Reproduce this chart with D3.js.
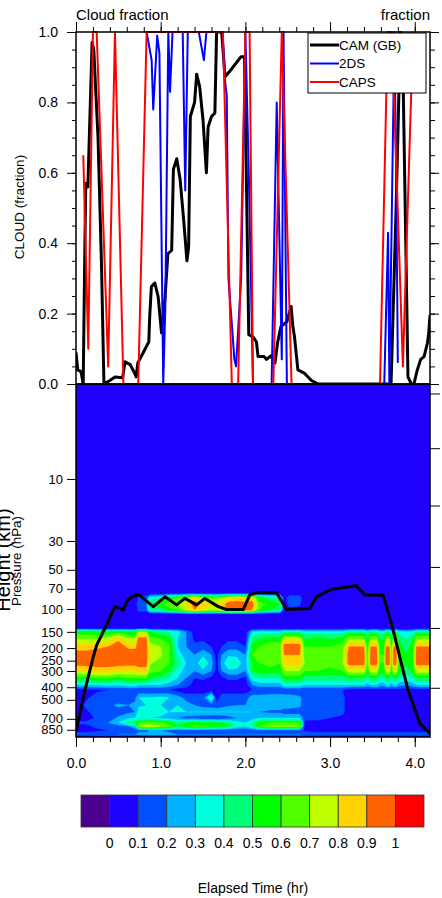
<!DOCTYPE html>
<html>
<head>
<meta charset="utf-8">
<script src="https://cdn.jsdelivr.net/npm/d3@7"></script>
<style>
  body { margin: 0; background: #fff; }
  svg { display: block; }
</style>
</head>
<body>
<svg id="chart" width="442" height="898"></svg>
<script>
// ---------- Cloud fraction time series (top panel) ----------
const camTime = [0.00, 0.02, 0.06, 0.085, 0.10, 0.115, 0.14, 0.19, 0.21, 0.26, 0.30, 0.33, 0.40, 0.46, 0.55, 0.58,
  0.64, 0.69, 0.71, 0.73, 0.77, 0.83, 0.86, 0.87, 0.89, 0.93, 0.97, 1.01, 1.05, 1.085, 1.13, 1.15, 1.19, 1.23,
  1.27, 1.31, 1.33, 1.35, 1.40, 1.425, 1.46, 1.50, 1.54, 1.56, 1.60, 1.64, 1.66, 1.72, 1.76, 1.82, 1.95, 1.99,
  2.04, 2.09, 2.13, 2.15, 2.22, 2.25, 2.30, 2.35, 2.38, 2.42, 2.49, 2.54, 2.56, 2.58, 2.62, 2.70, 2.78, 2.86,
  3.72, 3.78, 3.83, 3.86, 3.92, 3.96, 3.99, 4.03, 4.07, 4.11, 4.15, 4.165, 4.18];
const camFrac = [0.09, 0.04, 0.035, 0.0, 0.30, 0.57, 0.56, 0.97, 0.95, 0.70, 0.35, 0.0, 0.01, 0.02, 0.018, 0.063,
  0.055, 0.032, 0.02, 0.06, 0.078, 0.106, 0.12, 0.19, 0.276, 0.287, 0.248, 0.145, 0.24, 0.37, 0.38, 0.61, 0.64, 0.58,
  0.47, 0.35, 0.39, 0.76, 0.80, 0.88, 0.845, 0.75, 0.60, 0.73, 0.76, 0.77, 1.0, 1.0, 0.873, 0.89, 0.93, 0.93,
  0.14, 0.134, 0.12, 0.078, 0.078, 0.07, 0.08, 0.06, 0.117, 0.163, 0.177, 0.22, 0.165, 0.134, 0.04, 0.03, 0.01, 0.0,
  0.0, 0.5, 1.0, 0.9, 0.02, 0.0, 0.0, 0.04, 0.07, 0.078, 0.117, 0.144, 0.196];

const tdsTime = [0.834, 0.893, 0.912, 0.959, 0.985, 1.03, 1.055, 1.09, 1.11, 1.14, 1.26, 1.29, 1.32, 1.45, 1.48,
  1.51, 1.54, 1.73, 1.76, 1.78, 1.80, 1.84, 1.87, 1.89, 1.95, 2.00, 2.04, 2.09, 2.31, 2.37, 2.43, 2.45, 2.49,
  3.64, 3.685, 3.70, 3.76, 3.78, 3.80];
const tdsFrac = [1.0, 0.92, 0.78, 0.99, 0.94, 0.0, 0.22, 1.0, 0.83, 1.0, 1.0, 0.55, 1.0, 1.0, 0.96,
  0.92, 1.0, 1.0, 0.86, 0.82, 0.30, 0.17, 0.07, 0.05, 0.30, 1.0, 0.6, 0.0, 0.0, 0.80, 0.07, 1.0, 0.0,
  0.0, 0.43, 0.0, 1.0, 0.6, 0.06];

const capsTime = [0.086, 0.145, 0.20, 0.244, 0.38, 0.46, 0.56, 0.735, 0.834, 1.735, 1.84, 1.915, 2.00, 2.05,
  2.09, 2.33, 2.43, 2.545, 3.59, 3.68, 3.73, 3.86, 3.98];
const capsFrac = [0.65, 0.10, 1.0, 1.0, 0.05, 1.0, 0.0, 0.0, 1.0, 1.0, 0.0, 0.0, 1.0, 1.0,
  0.0, 0.0, 1.0, 0.0, 0.0, 1.0, 1.0, 0.05, 1.0];

const seriesNames = ["CAM (GB)", "2DS", "CAPS"];
const seriesColors = ["#000000", "#0000ff", "#ff0000"];

// ---------- Model cloud fraction curtain (bottom panel) ----------
// pressure levels of the grid rows (hPa), top to bottom
const cloudLevels = [1.86, 75, 82, 92, 102, 110, 140, 150, 170, 195, 225, 260, 300, 340, 385, 420,
  480, 550, 620, 690, 750, 800, 860, 920, 966];
// recurring column profiles in the late part of the flight
const profOrange = [0, 0, 0, 0, 0, 0, 0, .45, .7, .9, .95, .95, .75, .5, .3, .05, .05, .05, .05, .05, .05, .05, .05, .15, .05];
const profGreen  = [0, 0, 0, 0, 0, 0, 0, .35, .5, .55, .6, .6, .55, .4, .25, .05, .05, .05, .05, .05, .05, .05, .05, .15, .05];
const profCyan   = [0, 0, 0, 0, 0, 0, 0, .3, .4, .45, .5, .5, .45, .35, .2, .05, .05, .05, .05, .05, .05, .05, .05, .15, .05];

const cloudTimes = [0.00, 0.12, 0.25, 0.38, 0.50, 0.62, 0.70, 0.74, 0.83, 0.87, 1.00, 1.10, 1.20, 1.30, 1.40,
  1.50, 1.60, 1.66, 1.72, 1.80, 1.90, 2.00, 2.08, 2.16, 2.30, 2.41, 2.46, 2.52, 2.64, 2.70, 2.85, 3.00, 3.15,
  3.22, 3.40, 3.44, 3.48, 3.55, 3.59, 3.635, 3.66, 3.70, 3.725, 3.75, 3.78, 3.81, 3.90, 3.98, 4.02, 4.18];
const cloudGrid = [
  [0, 0, 0, 0, 0, 0, 0, .55, .7, .85, .95, .95, .8, .55, .3, .05, .05, .05, .05, .05, .12, .05, .05, .15, .05],
  [0, 0, 0, 0, 0, 0, 0, .55, .7, .85, .95, .95, .82, .55, .3, .06, .08, .12, .08, .05, .12, .08, .05, .15, .05],
  [0, 0, 0, 0, 0, 0, 0, .5, .7, .88, .95, .95, .85, .6, .3, .08, .15, .15, .15, .12, .15, .12, .08, .18, .05],
  [0, 0, 0, 0, 0, 0, 0, .5, .75, .9, .95, .95, .85, .6, .32, .1, .15, .18, .15, .15, .2, .15, .1, .18, .05],
  [0, 0, 0, 0, 0, 0, 0, .55, .88, .95, .95, .95, .82, .55, .3, .1, .12, .22, .15, .22, .3, .15, .1, .2, .05],
  [0, 0, 0, 0, 0, 0, 0, .5, .72, .88, .95, .95, .8, .6, .35, .1, .15, .2, .18, .28, .45, .2, .1, .2, .05],
  [0, 0, 0, 0, 0, 0, 0, .5, .72, .88, .95, .95, .8, .6, .35, .1, .18, .22, .2, .3, .5, .3, .12, .2, .05],
  [0, 0, .15, .18, .15, 0, 0, .7, .95, .95, .95, .95, .85, .6, .3, .1, .3, .28, .35, .3, .6, .7, .15, .25, .05],
  [0, 0, .15, .18, .15, 0, 0, .7, .95, .95, .95, .95, .85, .6, .3, .1, .3, .3, .35, .3, .65, .75, .15, .25, .05],
  [0, 0, .35, .5, .4, 0, 0, .5, .65, .75, .78, .72, .65, .5, .3, .1, .3, .3, .35, .3, .65, .75, .2, .25, .05],
  [0, 0, .4, .55, .45, 0, 0, .45, .6, .7, .72, .65, .6, .45, .3, .1, .32, .3, .35, .28, .6, .7, .2, .25, .05],
  [0, 0, .55, .65, .55, 0, 0, .4, .55, .62, .6, .6, .5, .4, .25, .1, .3, .25, .3, .25, .55, .65, .15, .25, .05],
  [0, 0, .6, .7, .6, 0, 0, .35, .3, .3, .35, .45, .35, .3, .2, .05, .25, .3, .3, .2, .45, .5, .15, .2, .05],
  [0, 0, .7, .8, .75, 0, 0, .2, .2, .2, .25, .3, .25, .2, .15, .05, .15, .25, .3, .15, .5, .55, .15, .2, .05],
  [0, 0, .85, .95, .9, 0, 0, .05, .08, .12, .2, .25, .2, .1, .05, .05, .15, .2, .3, .15, .55, .65, .15, .2, .05],
  [0, 0, .7, .85, .8, 0, 0, .05, .08, .15, .28, .38, .28, .12, .05, .05, .15, .15, .3, .12, .5, .6, .12, .2, .05],
  [0, 0, .65, .8, .75, 0, 0, .05, .05, .1, .2, .25, .2, .08, .05, .05, .45, .15, .3, .12, .55, .6, .12, .2, .05],
  [0, 0, .65, .8, .75, 0, 0, .05, .05, .05, .05, .05, .05, .05, .05, .05, .05, .12, .3, .1, .5, .55, .12, .2, .05],
  [0, 0, .7, .85, .8, 0, 0, .05, .05, .1, .2, .25, .2, .08, .05, .05, .15, .15, .3, .12, .5, .55, .12, .2, .05],
  [0, 0, .8, .95, .95, 0, 0, .05, .08, .15, .28, .38, .28, .12, .05, .05, .15, .18, .3, .15, .45, .5, .12, .2, .05],
  [0, 0, .85, .95, .95, 0, 0, .05, .08, .15, .28, .35, .28, .12, .05, .05, .15, .2, .3, .2, .35, .35, .12, .2, .05],
  [0, 0, .8, .95, .95, 0, 0, .05, .05, .1, .2, .25, .2, .08, .05, .05, .15, .2, .3, .2, .3, .3, .12, .2, .05],
  [0, 0, .85, .95, .9, 0, 0, .3, .45, .55, .6, .55, .5, .35, .2, .1, .25, .25, .3, .25, .4, .4, .15, .2, .05],
  [0, 0, .55, .65, .6, 0, 0, .35, .5, .6, .65, .6, .55, .4, .25, .1, .25, .25, .2, .3, .55, .6, .15, .2, .05],
  [0, 0, .45, .55, .5, 0, 0, .35, .55, .68, .7, .65, .55, .4, .25, .1, .28, .25, .18, .3, .6, .7, .15, .2, .05],
  [0, 0, .45, .5, .45, 0, 0, .35, .55, .65, .65, .6, .55, .4, .25, .1, .28, .25, .18, .3, .6, .7, .15, .2, .05],
  [0, 0, 0, 0, 0, 0, 0, .4, .8, .95, .9, .85, .7, .55, .35, .12, .25, .25, .15, .3, .6, .7, .15, .2, .05],
  [0, 0, .2, .15, .05, 0, 0, .4, .8, .95, .9, .85, .7, .55, .35, .12, .25, .25, .15, .3, .6, .7, .15, .2, .05],
  [0, 0, .18, .12, .05, 0, 0, .4, .8, .95, .9, .85, .7, .55, .35, .12, .22, .22, .15, .3, .6, .7, .15, .2, .05],
  [0, 0, 0, 0, 0, 0, 0, .35, .5, .6, .65, .7, .6, .45, .3, .1, .15, .15, .12, .12, .08, .08, .08, .15, .05],
  [0, 0, 0, 0, 0, 0, 0, .35, .55, .6, .7, .65, .6, .45, .3, .1, .15, .15, .15, .12, .08, .05, .05, .15, .05],
  [0, 0, 0, 0, 0, 0, 0, .35, .5, .6, .6, .65, .55, .45, .3, .1, .15, .12, .15, .1, .05, .05, .05, .15, .05],
  [0, 0, 0, 0, 0, 0, 0, .35, .55, .65, .7, .7, .6, .45, .3, .1, .12, .12, .12, .08, .05, .05, .05, .15, .05],
  profOrange, profOrange,
  [0, 0, 0, 0, 0, 0, 0, .35, .5, .55, .6, .6, .55, .4, .25, .05, .05, .05, .05, .05, .05, .05, .05, .15, .05],
  profOrange, profOrange, profGreen, profGreen, profOrange, profOrange, profGreen,
  profOrange, profOrange, profGreen, profCyan, profGreen, profOrange, profOrange
];

// aircraft pressure along the flight
const flightTime = [0.00, 0.106, 0.204, 0.244, 0.303, 0.362, 0.421, 0.46, 0.519, 0.558, 0.598, 0.657, 0.716,
  0.755, 0.912, 1.05, 1.188, 1.286, 1.424, 1.522, 1.68, 1.778, 1.974, 2.053, 2.132, 2.368, 2.486, 2.761, 2.84,
  2.918, 3.017, 3.31, 3.41, 3.626, 3.744, 3.92, 4.059, 4.18];
const flightPres = [880, 421, 233, 190, 158, 133, 108, 96, 99, 102, 88, 80.6, 78,
  79, 96, 80.6, 93, 83, 93, 83, 96, 101, 101, 78, 75, 75, 101, 99, 80.6,
  76, 70.6, 66.4, 78, 78, 145, 421, 755, 910];

// ---------- Axes, colour bar ----------
const timeTicks = [0, 1, 2, 3, 4];
const fracTicks = [0, 0.2, 0.4, 0.6, 0.8, 1.0];
const presTicks = [10, 30, 50, 70, 100, 150, 200, 250, 300, 400, 500, 700, 850];
const heightTickPres = [404, 140, 47.5, 16, 5.8, 2.2];
const contourLevels = [0.1, 0.2, 0.3, 0.4, 0.5, 0.6, 0.7, 0.8, 0.9, 1.0];
const barColors = ["#4b0092", "#1e00ff", "#0050ff", "#00b2ff", "#00ffdc", "#00ff78",
  "#00ff00", "#50ff00", "#beff00", "#ffd400", "#ff6400", "#ff0000"];
const barLabels = ["0", "0.1", "0.2", "0.3", "0.4", "0.5", "0.6", "0.7", "0.8", "0.9", "1"];

// ---------- Drawing ----------
const FONT = '"Liberation Sans", Arial, Helvetica, sans-serif';
const svg = d3.select("#chart").attr("font-family", FONT);

const L = 76, R = 430, T1 = 32, B1 = 384, B2 = 737;
const x = d3.scaleLinear().domain([0, 4.18]).range([L, R]);
const yFrac = d3.scaleLinear().domain([0, 1]).range([B1, T1]);
const yPres = d3.scaleLog().domain([1.86, 966]).range([B1, B2]);

const defs = svg.append("defs");
defs.append("clipPath").attr("id", "clipTop")
  .append("rect").attr("x", L).attr("y", T1 - 1).attr("width", R - L).attr("height", B1 - T1 + 1);
defs.append("clipPath").attr("id", "clipBot")
  .append("rect").attr("x", L).attr("y", B1).attr("width", R - L).attr("height", B2 - B1);

// ---- bottom panel: filled contours ----
const curtain = svg.append("g").attr("clip-path", "url(#clipBot)");
curtain.append("rect").attr("x", L).attr("y", B1).attr("width", R - L).attr("height", B2 - B1)
  .attr("fill", barColors[1]);

const nx = cloudTimes.length, ny = cloudLevels.length;
const gridValues = new Array(nx * ny);
for (let j = 0; j < ny; j++)
  for (let i = 0; i < nx; i++) gridValues[j * nx + i] = cloudGrid[i][j];

// grid index -> pixel (samples sit at index + 0.5)
const gxDom = [0].concat(cloudTimes.map((_, i) => i + 0.5), [nx]);
const gxRng = [x(cloudTimes[0])].concat(cloudTimes.map(t => x(t)), [x(cloudTimes[nx - 1])]);
const gyDom = [0].concat(cloudLevels.map((_, j) => j + 0.5), [ny]);
const gyRng = [yPres(cloudLevels[0])].concat(cloudLevels.map(p => yPres(p)), [yPres(cloudLevels[ny - 1])]);
const gx = d3.scaleLinear().domain(gxDom).range(gxRng);
const gy = d3.scaleLinear().domain(gyDom).range(gyRng);
const gridPath = d3.geoPath(d3.geoTransform({
  point(px, py) { this.stream.point(gx(px), gy(py)); }
}));

const bands = d3.contours().size([nx, ny]).thresholds(contourLevels)(gridValues);
curtain.selectAll("path.band").data(bands).join("path")
  .attr("class", "band")
  .attr("d", gridPath)
  .attr("fill", (d, k) => barColors[k + 2])
  .attr("stroke", (d, k) => barColors[k + 2])
  .attr("stroke-width", 0.3);

curtain.append("path")
  .datum(d3.zip(flightTime, flightPres))
  .attr("d", d3.line().x(d => x(d[0])).y(d => yPres(d[1])))
  .attr("fill", "none").attr("stroke", "#000").attr("stroke-width", 3)
  .attr("stroke-linejoin", "round");

// ---- top panel: time series ----
const tsPanel = svg.append("g").attr("clip-path", "url(#clipTop)");
const series = [d3.zip(camTime, camFrac), d3.zip(tdsTime, tdsFrac), d3.zip(capsTime, capsFrac)];
const widths = [3, 2, 2];
const lineFrac = d3.line().x(d => x(d[0])).y(d => yFrac(d[1]));
series.forEach((s, k) => {
  tsPanel.append("path").datum(s).attr("d", lineFrac)
    .attr("fill", "none").attr("stroke", seriesColors[k]).attr("stroke-width", widths[k])
    .attr("stroke-linejoin", "round");
});

// ---- frames ----
svg.append("rect").attr("x", L).attr("y", T1).attr("width", R - L).attr("height", B1 - T1)
  .attr("fill", "none").attr("stroke", "#000").attr("stroke-width", 1.5);
svg.append("rect").attr("x", L).attr("y", B1).attr("width", R - L).attr("height", B2 - B1)
  .attr("fill", "none").attr("stroke", "#000").attr("stroke-width", 1.5);

// ---- axes ----
function styleAxis(g, size) {
  g.attr("font-size", size || 14).attr("font-family", FONT);
  g.select(".domain").remove();
  g.selectAll("line").attr("stroke", "#000").attr("stroke-width", 1);
  g.selectAll("text").attr("fill", "#000");
}
const fmt1 = d3.format(".1f");
// top panel
svg.append("g").attr("transform", `translate(${L},0)`)
  .call(d3.axisLeft(yFrac).tickValues(fracTicks).tickSize(9).tickPadding(9).tickFormat(fmt1))
  .call(styleAxis);
svg.append("g").attr("transform", `translate(${L},0)`)
  .call(d3.axisLeft(yFrac).tickValues(d3.range(0, 1.001, 0.05)).tickSize(4).tickFormat(""))
  .call(styleAxis);
svg.append("g").attr("transform", `translate(${R},0)`)
  .call(d3.axisRight(yFrac).tickValues(fracTicks).tickSize(9).tickFormat(""))
  .call(styleAxis);
svg.append("g").attr("transform", `translate(${R},0)`)
  .call(d3.axisRight(yFrac).tickValues(d3.range(0, 1.001, 0.05)).tickSize(5).tickFormat(""))
  .call(styleAxis);
svg.append("g").attr("transform", `translate(0,${T1})`)
  .call(d3.axisTop(x).tickValues(timeTicks).tickSize(10).tickFormat(""))
  .call(styleAxis);
svg.append("g").attr("transform", `translate(0,${T1})`)
  .call(d3.axisTop(x).tickValues(d3.range(0, 4.18, 0.2)).tickSize(5).tickFormat(""))
  .call(styleAxis);
// bottom panel
svg.append("g").attr("transform", `translate(${L},0)`)
  .call(d3.axisLeft(yPres).tickValues(presTicks).tickSize(9).tickPadding(4).tickFormat(d3.format("d")))
  .call(g => styleAxis(g, 13));
svg.append("g").attr("transform", `translate(${R},0)`)
  .call(d3.axisRight(yPres).tickValues(heightTickPres).tickSize(10).tickFormat(""))
  .call(styleAxis);
svg.append("g").attr("transform", `translate(0,${B2})`)
  .call(d3.axisBottom(x).tickValues(timeTicks).tickSize(10).tickPadding(11).tickFormat(fmt1))
  .call(styleAxis);
svg.append("g").attr("transform", `translate(0,${B2})`)
  .call(d3.axisBottom(x).tickValues(d3.range(0, 4.18, 0.2)).tickSize(5).tickFormat(""))
  .call(styleAxis);

// ---- titles ----
svg.append("text").attr("x", L).attr("y", 20).attr("font-size", 15).text("Cloud fraction");
svg.append("text").attr("x", R).attr("y", 20).attr("font-size", 15).attr("text-anchor", "end").text("fraction");
svg.append("text").attr("transform", "translate(24,207) rotate(-90)").attr("font-size", 13.5)
  .attr("text-anchor", "middle").text("CLOUD (fraction)");
svg.append("text").attr("transform", "translate(9.5,560) rotate(-90)").attr("font-size", 20)
  .attr("text-anchor", "middle").text("Height (km)");
svg.append("text").attr("transform", "translate(20.5,561) rotate(-90)").attr("font-size", 13.4)
  .attr("text-anchor", "middle").text("Pressure (hPa)");
svg.append("text").attr("x", 253).attr("y", 893).attr("font-size", 14)
  .attr("text-anchor", "middle").text("Elapsed Time (hr)");

// ---- legend ----
const lg = svg.append("g");
lg.append("rect").attr("x", 308).attr("y", 33).attr("width", 118).attr("height", 60)
  .attr("fill", "#fff").attr("stroke", "#000").attr("stroke-width", 1);
seriesNames.forEach((name, k) => {
  const yy = 45 + k * 18.5;
  lg.append("line").attr("x1", 310).attr("x2", 339).attr("y1", yy).attr("y2", yy)
    .attr("stroke", seriesColors[k]).attr("stroke-width", widths[k]);
  lg.append("text").attr("x", 339).attr("y", yy).attr("dy", "0.36em").attr("font-size", 13.5).text(name);
});

// ---- colour bar ----
const cbX = d3.scaleLinear().domain([0, barColors.length]).range([81, 424]);
const cb = svg.append("g");
cb.selectAll("rect").data(barColors).join("rect")
  .attr("x", (d, i) => cbX(i)).attr("y", 795)
  .attr("width", cbX(1) - cbX(0)).attr("height", 32)
  .attr("fill", d => d).attr("stroke", "#333").attr("stroke-width", 0.8);
cb.selectAll("text").data(barLabels).join("text")
  .attr("x", (d, i) => cbX(i + 1)).attr("y", 848)
  .attr("text-anchor", "middle").attr("font-size", 14).text(d => d);
</script>
</body>
</html>
